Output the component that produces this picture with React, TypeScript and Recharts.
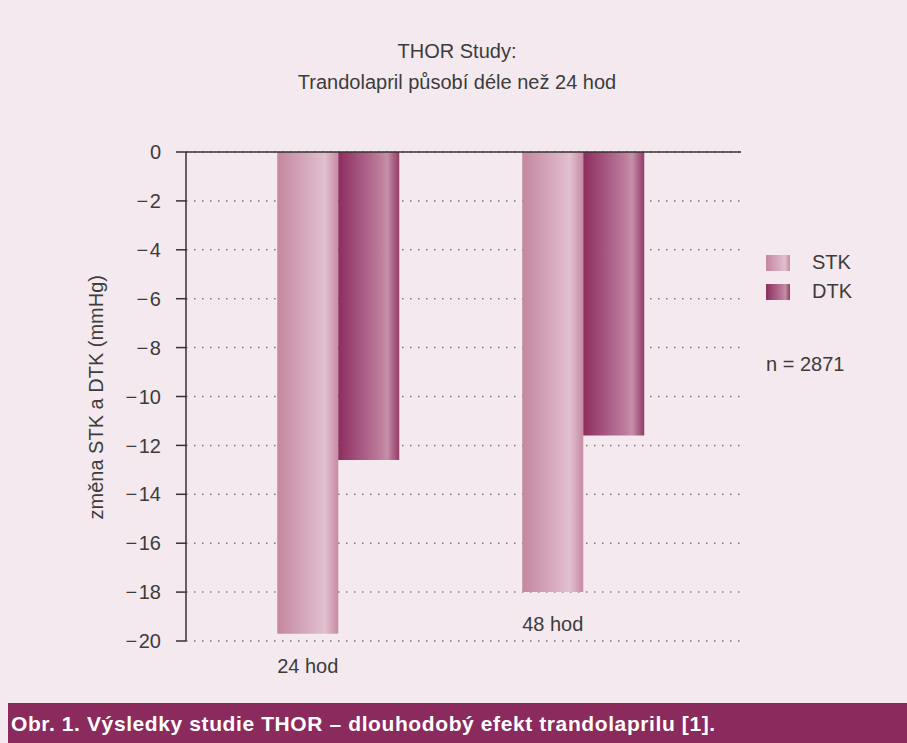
import { BarChart, Bar, XAxis, YAxis, CartesianGrid, ReferenceLine, LabelList } from "recharts";

const categories = ["24 hod", "48 hod"];
const stkValues = [-19.7, -18.0];
const dtkValues = [-12.6, -11.6];
const yTicks = [0, -2, -4, -6, -8, -10, -12, -14, -16, -18, -20];
const seriesNames = { stk: "STK", dtk: "DTK" };

const data = categories.map((cat, i) => ({ cat, stk: stkValues[i], dtk: dtkValues[i] }));

const FONT = "'Liberation Sans', Arial, sans-serif";
const TEXT = "#3c3c3c";
const BG = "#f4e9ee";

const stkCss = "linear-gradient(90deg,#c4879f 0%,#d3a3b9 40%,#e0c0ce 78%,#d2a2b8 90%,#c68ba5 100%)";
const dtkCss = "linear-gradient(90deg,#8e2d5d 0%,#a55580 35%,#bd7e9b 70%,#c690a9 80%,#a85b83 92%,#963d68 100%)";

const fmt = (v: number) => (v < 0 ? `\u2212\u200A${-v}` : `${v}`);

function CatLabel(props: any) {
  const { x, y, width, height, value } = props;
  const bottom = Math.max(y, y + height);
  return (
    <text x={x + width / 2} y={bottom + 39} textAnchor="middle" fontSize={20} fontFamily={FONT} fill={TEXT}>
      {value}
    </text>
  );
}

function LegendBox() {
  const items = [
    { name: seriesNames.stk, bg: stkCss },
    { name: seriesNames.dtk, bg: dtkCss },
  ];
  return (
    <div style={{ position: "absolute", left: 766, top: 248, fontFamily: FONT, color: TEXT, fontSize: 20 }}>
      {items.map((it) => (
        <div key={it.name} style={{ display: "flex", alignItems: "center", height: 29 }}>
          <div style={{ width: 24, height: 16, background: it.bg, marginRight: 22 }} />
          <span>{it.name}</span>
        </div>
      ))}
      <div style={{ marginTop: 47 }}>n = 2871</div>
    </div>
  );
}

export default function App() {
  return (
    <div style={{ position: "absolute", left: 0, top: 0, width: 907, height: 743, background: BG, overflow: "hidden" }}>
      <div style={{ position: "absolute", top: 36, left: 0, width: 914, textAlign: "center", fontFamily: FONT, fontSize: 20, color: TEXT, lineHeight: "31px" }}>
        <div>THOR Study:</div>
        <div>Trandolapril působí déle než 24 hod</div>
      </div>
      <div style={{ position: "absolute", left: 0, top: 0 }}>
        <BarChart width={907} height={703} data={data} barGap={0} barCategoryGap="25%"
          margin={{ top: 152, right: 166, bottom: 62, left: 76 }}>
          <defs>
            <linearGradient id="gStk" x1="0" y1="0" x2="1" y2="0">
              <stop offset="0%" stopColor="#c4879f" />
              <stop offset="40%" stopColor="#d3a3b9" />
              <stop offset="78%" stopColor="#e0c0ce" />
              <stop offset="90%" stopColor="#d2a2b8" />
              <stop offset="100%" stopColor="#c68ba5" />
            </linearGradient>
            <linearGradient id="gDtk" x1="0" y1="0" x2="1" y2="0">
              <stop offset="0%" stopColor="#8e2d5d" />
              <stop offset="35%" stopColor="#a55580" />
              <stop offset="70%" stopColor="#bd7e9b" />
              <stop offset="80%" stopColor="#c690a9" />
              <stop offset="92%" stopColor="#a85b83" />
              <stop offset="100%" stopColor="#963d68" />
            </linearGradient>
          </defs>
          <CartesianGrid vertical={false} stroke="#777" strokeDasharray="1.5 6.5" strokeWidth={1.5} />
          <XAxis dataKey="cat" hide padding={{ left: 30, right: 35 }} />
          <YAxis
            width={110}
            domain={[-20, 0]}
            ticks={yTicks}
            interval={0}
            tickFormatter={fmt}
            tickSize={10}
            tickMargin={15}
            tick={{ fontSize: 20, fontFamily: FONT, fill: TEXT }}
            axisLine={{ stroke: "#333", strokeWidth: 1.5 }}
            tickLine={{ stroke: "#333", strokeWidth: 1.5 }}
            label={{ value: "změna STK a DTK (mmHg)", angle: -90, position: "insideLeft", dx: 15, dy: 123, style: { fontSize: 20, fontFamily: FONT, fill: TEXT } }}
          />
          <Bar dataKey="stk" name={seriesNames.stk} fill="url(#gStk)" isAnimationActive={false}>
            <LabelList dataKey="cat" content={CatLabel} />
          </Bar>
          <Bar dataKey="dtk" name={seriesNames.dtk} fill="url(#gDtk)" isAnimationActive={false} />
          <ReferenceLine y={0} stroke="#333" strokeWidth={1.5} />
        </BarChart>
      </div>
      <LegendBox />
      <div style={{ position: "absolute", left: 8, top: 703, width: 899, height: 40, background: "#8b2a5c", color: "#fff", fontFamily: FONT, fontWeight: "bold", fontSize: 21, letterSpacing: 0.6, lineHeight: "42px", paddingLeft: 3, boxSizing: "border-box" }}>
        Obr. 1. Výsledky studie THOR – dlouhodobý efekt trandolaprilu [1].
      </div>
    </div>
  );
}
